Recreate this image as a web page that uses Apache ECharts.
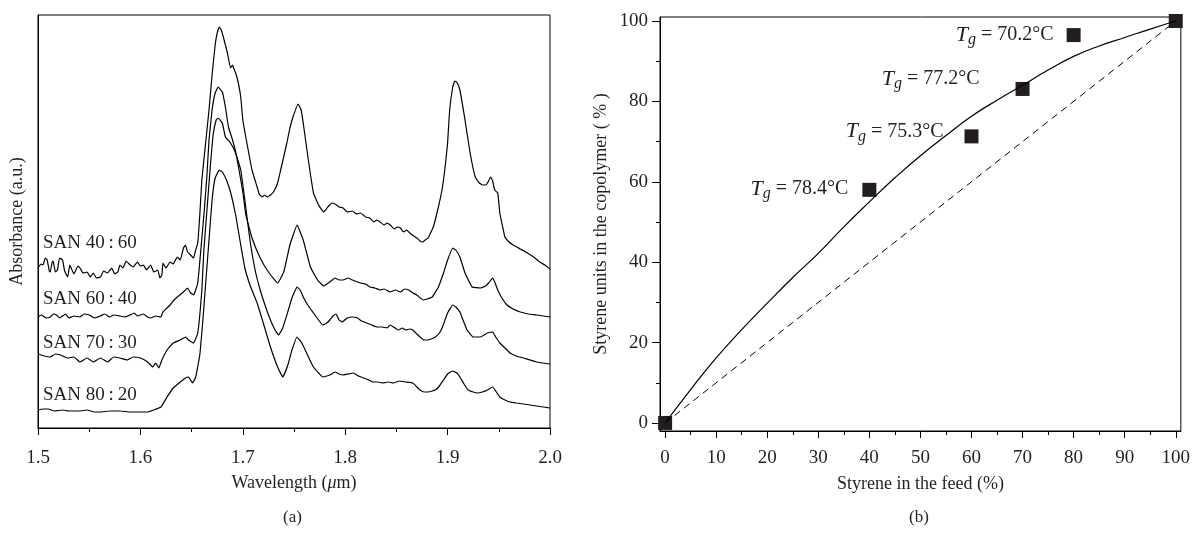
<!DOCTYPE html>
<html><head><meta charset="utf-8">
<script src="https://cdn.jsdelivr.net/npm/echarts@6/dist/echarts.min.js"></script>
<style>html,body{margin:0;padding:0;background:#fff}#c{width:1193px;height:537px}</style>
</head><body><div id="c"></div>
<script>
// ---------- Panel (a): NIR spectra (wavelength in µm, absorbance in arbitrary offset units) ----------
const san4060 = [[1.500,160],[1.503,164],[1.505,163],[1.507,170],[1.509,168],[1.511,157],[1.512,156],[1.514,167],[1.515,166],[1.517,156],[1.519,158],[1.521,170],[1.524,168],[1.526,157],[1.529,151],[1.531,163],[1.532,161],[1.535,154],[1.537,158],[1.539,162],[1.541,160],[1.544,155],[1.548,156],[1.551,151],[1.554,155],[1.557,150],[1.561,151],[1.564,157],[1.568,155],[1.572,160],[1.575,154],[1.578,156],[1.580,163],[1.583,160],[1.586,167],[1.590,163],[1.593,161],[1.597,166],[1.600,162],[1.603,163],[1.606,158],[1.610,163],[1.613,156],[1.617,158],[1.619,150],[1.621,153],[1.622,165],[1.625,160],[1.629,166],[1.632,164],[1.636,171],[1.639,168],[1.642,180],[1.644,183],[1.646,176],[1.649,173],[1.652,170],[1.654,178],[1.656,185],[1.658,213],[1.660,248],[1.664,288],[1.667,318],[1.670,353],[1.673,383],[1.675,395],[1.677,401],[1.679,398],[1.681,391],[1.685,375],[1.688,360],[1.690,363],[1.691,360],[1.693,355],[1.695,348],[1.698,331],[1.700,308],[1.704,285],[1.709,258],[1.714,241],[1.716,234],[1.719,231],[1.721,233],[1.724,231],[1.727,233],[1.730,236],[1.734,245],[1.737,258],[1.743,285],[1.746,300],[1.749,311],[1.754,324],[1.757,318],[1.759,305],[1.764,268],[1.769,235],[1.774,223],[1.779,216],[1.783,221],[1.787,225],[1.790,224],[1.794,221],[1.798,220],[1.802,216],[1.807,217],[1.811,214],[1.815,215],[1.820,211],[1.824,210],[1.828,206],[1.831,208],[1.834,206],[1.838,203],[1.841,205],[1.844,203],[1.848,199],[1.851,201],[1.854,200],[1.857,196],[1.860,198],[1.863,195],[1.867,192],[1.870,190],[1.873,187],[1.876,186],[1.878,188],[1.881,190],[1.886,201],[1.891,221],[1.895,241],[1.898,265],[1.900,285],[1.902,318],[1.905,341],[1.907,347],[1.909,346],[1.912,338],[1.917,308],[1.922,275],[1.927,251],[1.931,245],[1.934,243],[1.937,243],[1.939,245],[1.942,251],[1.944,247],[1.946,238],[1.949,235],[1.951,215],[1.956,191],[1.960,186],[1.964,183],[1.971,179],[1.978,175],[1.984,171],[1.990,166],[1.995,163],[2.000,159]];

const san6040 = [[1.500,111],[1.503,113],[1.505,112],[1.508,110],[1.512,111],[1.515,114],[1.518,113],[1.521,110],[1.524,112],[1.527,114],[1.530,110],[1.535,112],[1.541,111],[1.545,114],[1.550,113],[1.555,110],[1.561,112],[1.565,114],[1.570,111],[1.574,113],[1.580,112],[1.585,111],[1.590,113],[1.594,115],[1.597,112],[1.603,114],[1.607,111],[1.610,110],[1.615,112],[1.620,111],[1.622,116],[1.626,120],[1.629,123],[1.632,127],[1.636,131],[1.642,136],[1.646,140],[1.649,135],[1.652,133],[1.656,145],[1.659,178],[1.662,213],[1.665,253],[1.667,288],[1.670,318],[1.673,335],[1.676,341],[1.680,336],[1.683,321],[1.686,301],[1.690,288],[1.693,276],[1.696,260],[1.700,236],[1.703,213],[1.709,190],[1.717,170],[1.725,156],[1.734,145],[1.740,156],[1.746,183],[1.753,203],[1.759,188],[1.766,161],[1.773,148],[1.779,142],[1.785,146],[1.790,150],[1.794,148],[1.798,148],[1.803,150],[1.807,148],[1.815,145],[1.820,144],[1.824,141],[1.829,140],[1.834,138],[1.838,139],[1.844,136],[1.849,138],[1.854,136],[1.858,139],[1.862,138],[1.866,135],[1.870,133],[1.876,128],[1.880,129],[1.885,131],[1.891,141],[1.896,155],[1.900,168],[1.905,180],[1.908,178],[1.912,171],[1.917,155],[1.924,141],[1.932,140],[1.937,142],[1.940,145],[1.944,150],[1.946,146],[1.949,138],[1.953,130],[1.958,123],[1.964,119],[1.971,116],[1.979,114],[1.987,113],[2.000,111]];

const san7030 = [[1.500,74],[1.506,72],[1.512,71],[1.517,74],[1.522,73],[1.529,70],[1.535,71],[1.541,66],[1.548,70],[1.554,66],[1.561,70],[1.568,66],[1.574,71],[1.580,70],[1.587,68],[1.593,71],[1.600,70],[1.607,66],[1.612,61],[1.615,65],[1.618,60],[1.621,68],[1.626,78],[1.632,85],[1.639,88],[1.644,91],[1.647,88],[1.652,85],[1.656,95],[1.660,138],[1.662,178],[1.665,218],[1.668,258],[1.671,293],[1.674,308],[1.676,310],[1.680,305],[1.683,291],[1.688,285],[1.693,275],[1.698,258],[1.702,228],[1.707,188],[1.712,158],[1.717,138],[1.722,122],[1.727,108],[1.731,99],[1.735,93],[1.739,100],[1.743,113],[1.748,130],[1.753,141],[1.756,138],[1.759,131],[1.764,122],[1.769,115],[1.774,108],[1.778,103],[1.782,105],[1.785,108],[1.788,112],[1.791,114],[1.794,108],[1.797,106],[1.802,110],[1.807,111],[1.812,110],[1.816,107],[1.821,105],[1.826,103],[1.831,101],[1.836,101],[1.841,100],[1.844,103],[1.847,101],[1.852,98],[1.856,100],[1.859,98],[1.863,99],[1.866,98],[1.870,94],[1.873,91],[1.877,88],[1.880,88],[1.884,89],[1.888,91],[1.892,95],[1.895,101],[1.900,115],[1.905,123],[1.908,121],[1.912,116],[1.915,108],[1.919,98],[1.925,91],[1.932,91],[1.939,95],[1.944,96],[1.947,91],[1.951,85],[1.956,80],[1.961,75],[1.967,72],[1.974,70],[1.987,66],[2.000,64]];

const san8020 = [[1.500,18],[1.505,19],[1.510,19],[1.516,17],[1.524,18],[1.530,17],[1.540,17],[1.548,18],[1.555,16],[1.561,16],[1.570,17],[1.580,17],[1.590,16],[1.600,16],[1.607,16],[1.613,18],[1.620,21],[1.626,31],[1.632,40],[1.639,46],[1.644,50],[1.647,51],[1.651,45],[1.654,51],[1.658,73],[1.661,108],[1.664,148],[1.667,188],[1.670,228],[1.673,250],[1.677,258],[1.680,256],[1.684,248],[1.688,236],[1.693,213],[1.698,183],[1.702,160],[1.707,143],[1.714,125],[1.720,105],[1.727,81],[1.734,61],[1.739,51],[1.744,63],[1.748,78],[1.753,91],[1.757,86],[1.761,78],[1.765,69],[1.769,61],[1.774,55],[1.778,51],[1.782,52],[1.785,53],[1.790,56],[1.794,54],[1.798,53],[1.803,54],[1.808,55],[1.813,52],[1.818,50],[1.823,48],[1.827,46],[1.832,46],[1.837,45],[1.842,46],[1.847,45],[1.853,47],[1.859,46],[1.866,45],[1.870,41],[1.873,38],[1.877,36],[1.881,36],[1.885,37],[1.888,38],[1.892,42],[1.896,48],[1.900,54],[1.905,57],[1.909,55],[1.912,51],[1.916,44],[1.920,38],[1.925,36],[1.929,35],[1.934,36],[1.939,38],[1.944,41],[1.947,37],[1.951,31],[1.956,28],[1.961,26],[1.967,25],[1.974,24],[1.987,22],[2.000,20]];

const spectrumNames = ['SAN 40\u2009:\u200960','SAN 60\u2009:\u200940','SAN 70\u2009:\u200930','SAN 80\u2009:\u200920'];
const wavelengthTicks = [1.5,1.6,1.7,1.8,1.9,2.0];

// ---------- Panel (b): copolymer composition ----------
const feedTicks = [0,10,20,30,40,50,60,70,80,90,100];
const feedMinorTicks = [5,15,25,35,45,55,65,75,85,95];
const copolymerTicks = [0,20,40,60,80,100];
const copolymerMinorTicks = [10,30,50,70,90];
const feedPct = [0,40,60,70,80,100];
const copolymerPct = [0,58.0,71.3,83.1,96.5,100];
const tgValues = [null,'78.4','75.3','77.2','70.2',null];
const fitFeed = [0,5,10,15,20,25,30,35,40,45,50,55,60,65,70,75,80,85,90,95,100];
const fitCopolymer = [0,8.3,16.2,23.2,29.8,36.2,42.2,48.8,55.0,61.0,66.5,71.5,76.3,80.3,84.0,87.8,91.2,93.8,95.9,98.0,100];
const idealFeed = [0,100];
const idealCopolymer = [0,100];

// ---------- build chart ----------
const FONT = 'Liberation Serif';
const INK = '#231f20';
const chart = echarts.init(document.getElementById('c'), null, {renderer:'canvas'});

const spectra = [san4060, san6040, san7030, san8020];
const spectrumSeries = spectra.map((d, i) => ({
  type:'line', name: spectrumNames[i], xAxisIndex:0, yAxisIndex:0, data:d,
  showSymbol:false, smooth:0.1, lineStyle:{color:'#000', width:1.2}, silent:true, animation:false
}));

const labelPlace = [null,{d:14,o:[0,-1]},{d:21,o:[0,-5]},{d:36,o:[0,-10]},{d:13,o:[0,0]},null];
const tgRich = {
  t:{fontFamily:FONT, fontStyle:'italic', fontSize:22, color:INK},
  g:{fontFamily:FONT, fontStyle:'italic', fontSize:16, color:INK, padding:[10,0,0,0]},
  n:{fontFamily:FONT, fontSize:20, color:INK}
};
const scatterData = feedPct.map((x, i) => {
  const item = {value:[x, copolymerPct[i]]};
  if (tgValues[i]) {
    item.label = {show:true, position:'left', distance:labelPlace[i].d, offset:labelPlace[i].o,
      formatter:'{t|T}{g|g}{n| = ' + tgValues[i] + '°C}', rich:tgRich};
  }
  return item;
});

const sanGraphics = [
  {y:245, i:0},{y:301, i:1},{y:345, i:2},{y:397, i:3}
].map(p => ({type:'text', left:43, top:p.y-11, style:{text:spectrumNames[p.i], font:'19px "Liberation Serif"', fill:INK}}));

const option = {
  backgroundColor:'#fff',
  animation:false,
  textStyle:{fontFamily:FONT},
  grid:[
    {left:38, top:15, width:512, height:413, show:true, borderColor:'#000', borderWidth:1, containLabel:false},
    {left:660, top:17, width:521, height:414, show:true, borderColor:'#000', borderWidth:1, containLabel:false}
  ],
  xAxis:[
    {type:'value', gridIndex:0, min:1.5, max:2.0, interval:0.1,
      name:'{a|Wavelength (}{i|μ}{a|m)}', nameLocation:'middle', nameGap:46,
      nameTextStyle:{rich:{a:{fontFamily:FONT, fontSize:18, color:INK}, i:{fontFamily:FONT, fontSize:18, fontStyle:'italic', color:INK}}},
      axisLine:{onZero:false, lineStyle:{color:'#000', width:1}},
      axisTick:{inside:false, length:7, lineStyle:{color:'#000'}},
      minorTick:{show:true, splitNumber:2, length:4, lineStyle:{color:'#000'}},
      axisLabel:{margin:21, fontFamily:FONT, fontSize:19, color:INK, formatter:v=>v.toFixed(1), customValues:wavelengthTicks},
      splitLine:{show:false}, minorSplitLine:{show:false}},
    {type:'value', gridIndex:1, min:-1, max:101, position:'bottom',
      name:'Styrene in the feed (%)', nameLocation:'middle', nameGap:44,
      nameTextStyle:{fontFamily:FONT, fontSize:18, color:INK},
      axisLine:{onZero:false, lineStyle:{color:'#000', width:1}},
      axisTick:{inside:false, length:7, customValues:feedTicks, lineStyle:{color:'#000'}},
      axisLabel:{margin:18, fontFamily:FONT, fontSize:19, color:INK, customValues:feedTicks},
      splitLine:{show:false}},
    {type:'value', gridIndex:1, min:-1, max:101, position:'bottom',
      axisLine:{show:false, onZero:false},
      axisTick:{inside:false, length:4, customValues:feedMinorTicks, lineStyle:{color:'#000'}},
      axisLabel:{show:false}, splitLine:{show:false}}
  ],
  yAxis:[
    {type:'value', gridIndex:0, min:0, max:413,
      name:'Absorbance (a.u.)', nameLocation:'middle', nameGap:12,
      nameTextStyle:{fontFamily:FONT, fontSize:18, color:INK},
      axisLine:{show:true, onZero:false, lineStyle:{color:'#000', width:1}},
      axisTick:{show:false}, axisLabel:{show:false}, splitLine:{show:false}},
    {type:'value', gridIndex:1, min:-2, max:101, position:'left',
      name:'Styrene units in the copolymer ( % )', nameLocation:'middle', nameGap:50,
      nameTextStyle:{fontFamily:FONT, fontSize:18, color:INK},
      axisLine:{show:true, onZero:false, lineStyle:{color:'#000', width:1}},
      axisTick:{inside:false, length:8, customValues:copolymerTicks, lineStyle:{color:'#000'}},
      axisLabel:{margin:12, fontFamily:FONT, fontSize:19, color:INK, customValues:copolymerTicks},
      splitLine:{show:false}},
    {type:'value', gridIndex:1, min:-2, max:101, position:'left',
      axisLine:{show:false, onZero:false},
      axisTick:{inside:false, length:4, customValues:copolymerMinorTicks, lineStyle:{color:'#000'}},
      axisLabel:{show:false}, splitLine:{show:false}}
  ],
  series:[
    ...spectrumSeries,
    {type:'line', name:'fit', xAxisIndex:1, yAxisIndex:1, data:fitFeed.map((x,i)=>[x, fitCopolymer[i]]),
      showSymbol:false, smooth:true, lineStyle:{color:'#000', width:1.2}, silent:true},
    {type:'line', name:'ideal', xAxisIndex:1, yAxisIndex:1, data:idealFeed.map((x,i)=>[x, idealCopolymer[i]]),
      showSymbol:false, lineStyle:{color:'#000', width:1, type:[7,5]}, silent:true},
    {type:'scatter', name:'measured', xAxisIndex:1, yAxisIndex:1, data:scatterData,
      symbol:'rect', symbolSize:14, itemStyle:{color:'#231f20', opacity:1}, silent:true}
  ],
  graphic:[
    ...sanGraphics,
    {type:'text', left:283, top:509, style:{text:'(a)', font:'17px "Liberation Serif"', fill:INK}},
    {type:'text', left:909, top:509, style:{text:'(b)', font:'17px "Liberation Serif"', fill:INK}}
  ]
};
chart.setOption(option);
</script></body></html>
